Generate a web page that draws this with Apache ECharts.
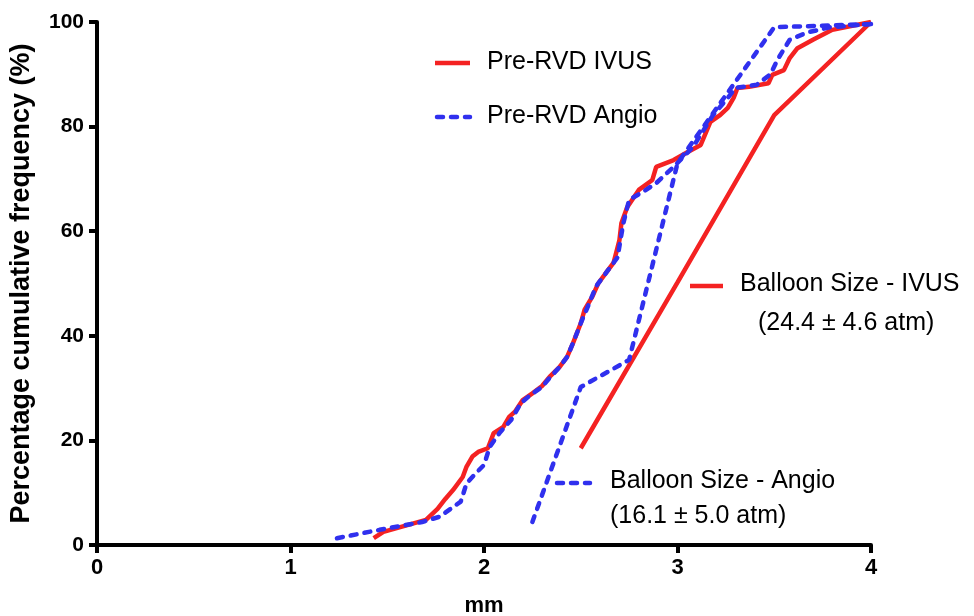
<!DOCTYPE html>
<html>
<head>
    <meta charset="utf-8">
    <title>Cumulative frequency</title>
    <script src="https://cdn.jsdelivr.net/npm/echarts@6/dist/echarts.min.js"></script>
    <style>
        html, body { margin: 0; padding: 0; background: #fff; }
        #chart1 { width: 974px; height: 616px; }
    </style>
</head>
<body>
<div id="chart1"></div>
<script type="text/javascript">
    // values (x in mm, y in %)
    var preIvusX = [1.43, 1.48, 1.70, 1.76, 1.80, 1.84, 1.89, 1.91, 1.94, 1.97, 2.02, 2.05, 2.10, 2.13, 2.16, 2.20, 2.25, 2.30, 2.34, 2.39, 2.43, 2.46, 2.50, 2.52, 2.56, 2.59, 2.64, 2.67, 2.70, 2.71, 2.74, 2.80, 2.87, 2.89, 2.98, 3.06, 3.12, 3.17, 3.22, 3.26, 3.29, 3.31, 3.37, 3.47, 3.49, 3.55, 3.58, 3.62, 3.70, 3.80, 4.00];
    var preIvusY = [1.3, 2.5, 4.8, 6.9, 8.8, 10.5, 13.0, 15.0, 16.9, 17.8, 18.5, 21.4, 22.6, 24.5, 25.5, 27.7, 29.0, 30.4, 32.2, 34.0, 36.0, 38.6, 42.4, 45.0, 47.5, 50.0, 52.5, 54.0, 58.3, 61.5, 64.6, 67.9, 69.8, 72.3, 73.6, 75.3, 76.5, 80.9, 82.2, 83.6, 85.5, 87.4, 87.6, 88.3, 89.9, 90.8, 93.1, 95.0, 96.6, 98.5, 100];

    var preAngioX = [1.24, 1.46, 1.68, 1.77, 1.88, 1.91, 1.96, 2.00, 2.03, 2.08, 2.14, 2.19, 2.24, 2.30, 2.34, 2.39, 2.43, 2.46, 2.50, 2.53, 2.58, 2.64, 2.69, 2.72, 2.75, 2.82, 2.89, 2.98, 3.08, 3.18, 3.26, 3.30, 3.41, 3.48, 3.52, 3.58, 3.67, 3.79, 4.00];
    var preAngioY = [1.3, 2.9, 4.4, 5.4, 8.3, 11.8, 13.8, 15.3, 18.8, 21.4, 23.9, 27.1, 28.7, 30.2, 32.0, 34.0, 36.0, 38.6, 42.4, 45.0, 49.5, 52.5, 55.0, 61.5, 66.0, 67.5, 69.2, 72.3, 76.1, 82.0, 85.5, 87.4, 88.0, 90.0, 93.0, 96.6, 98.0, 99.0, 99.6];

    var balloonIvusX = [2.5, 3.0, 3.5, 4.0];
    var balloonIvusY = [18.5, 50.2, 82.2, 100];

    var balloonAngioX = [2.25, 2.5, 2.75, 3.0, 3.25, 3.5, 4.0];
    var balloonAngioY = [4.4, 30.2, 35.4, 73.0, 86.0, 99.0, 99.6];

    var xTicks = [0, 1, 2, 3, 4];
    var yTicks = [0, 20, 40, 60, 80, 100];

    var RED = '#f42222';
    var BLUE = '#3030ee';
    var FONT = '"Liberation Sans", Arial, sans-serif';

    function zip(xs, ys) {
        return xs.map(function (x, i) { return [x, ys[i]]; });
    }

    var solid = { color: RED, width: 4.5, type: 'solid' };
    var dashed = { color: BLUE, width: 4.5, type: [6, 8], cap: 'round' };

    var myChart1 = echarts.init(document.getElementById('chart1'));

    myChart1.setOption({
        backgroundColor: '#fff',
        animation: false,
        grid: { left: 97, right: 103, top: 22, bottom: 71, containLabel: false, outerBoundsMode: 'none' },
        xAxis: {
            type: 'value',
            min: xTicks[0],
            max: xTicks[xTicks.length - 1],
            interval: 1,
            name: 'mm',
            nameLocation: 'middle',
            nameGap: 50,
            nameTextStyle: { fontFamily: FONT, fontWeight: 'bold', fontSize: 22, color: '#000' },
            axisLine: { lineStyle: { color: '#000', width: 4 } },
            axisTick: { length: 8, lineStyle: { color: '#000', width: 4 } },
            axisLabel: { margin: 12, fontFamily: FONT, fontWeight: 'bold', fontSize: 22, color: '#000' },
            splitLine: { show: false }
        },
        yAxis: {
            type: 'value',
            min: yTicks[0],
            max: yTicks[yTicks.length - 1],
            interval: 20,
            name: 'Percentage cumulative frequency (%)',
            nameLocation: 'middle',
            nameGap: 62,
            nameTextStyle: { fontFamily: FONT, fontWeight: 'bold', fontSize: 27, color: '#000' },
            axisLine: { lineStyle: { color: '#000', width: 4 } },
            axisTick: { length: 8, lineStyle: { color: '#000', width: 4 } },
            axisLabel: { margin: 13, fontFamily: FONT, fontWeight: 'bold', fontSize: 21, color: '#000' },
            splitLine: { show: false }
        },
        graphic: [
            { type: 'line', shape: { x1: 435, y1: 63, x2: 470, y2: 63 }, style: { stroke: RED, lineWidth: 4.5 } },
            { type: 'text', left: 487, top: 50, style: { text: 'Pre-RVD IVUS', font: '25px ' + FONT, fill: '#000' } },
            { type: 'line', shape: { x1: 437, y1: 117, x2: 470, y2: 117 }, style: { stroke: BLUE, lineWidth: 4.5, lineDash: [6, 8], lineCap: 'round' } },
            { type: 'text', left: 487, top: 104, style: { text: 'Pre-RVD Angio', font: '25px ' + FONT, fill: '#000' } },
            { type: 'line', shape: { x1: 690, y1: 286, x2: 723, y2: 286 }, style: { stroke: RED, lineWidth: 4.5 } },
            { type: 'text', left: 740, top: 272, style: { text: 'Balloon Size - IVUS', font: '25px ' + FONT, fill: '#000' } },
            { type: 'text', left: 758, top: 311, style: { text: '(24.4 \u00b1 4.6 atm)', font: '25px ' + FONT, fill: '#000' } },
            { type: 'line', shape: { x1: 557, y1: 483, x2: 590, y2: 483 }, style: { stroke: BLUE, lineWidth: 4.5, lineDash: [6, 8], lineCap: 'round' } },
            { type: 'text', left: 610, top: 469, style: { text: 'Balloon Size - Angio', font: '25px ' + FONT, fill: '#000' } },
            { type: 'text', left: 610, top: 504, style: { text: '(16.1 \u00b1 5.0 atm)', font: '25px ' + FONT, fill: '#000' } }
        ],
        series: [
            {
                name: 'Balloon Size - IVUS',
                type: 'line',
                data: zip(balloonIvusX, balloonIvusY),
                showSymbol: false,
                lineStyle: solid
            },
            {
                name: 'Pre-RVD IVUS',
                type: 'line',
                data: zip(preIvusX, preIvusY),
                showSymbol: false,
                lineStyle: solid
            },
            {
                name: 'Balloon Size - Angio',
                type: 'line',
                data: zip(balloonAngioX, balloonAngioY),
                showSymbol: false,
                lineStyle: dashed
            },
            {
                name: 'Pre-RVD Angio',
                type: 'line',
                data: zip(preAngioX, preAngioY),
                showSymbol: false,
                lineStyle: dashed
            }
        ]
    });
</script>
</body>
</html>
